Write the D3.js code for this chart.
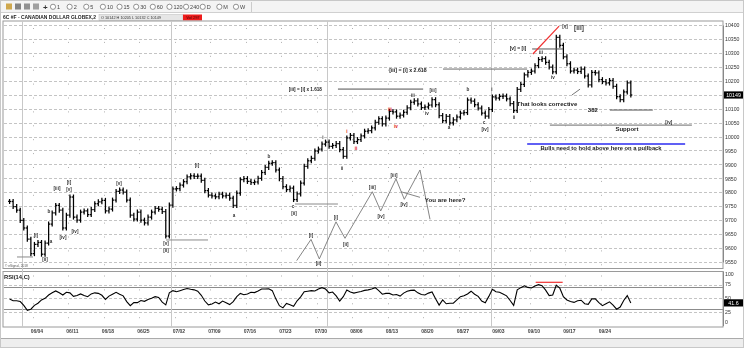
<!DOCTYPE html>
<html><head><meta charset="utf-8">
<script src="https://cdn.jsdelivr.net/npm/d3@7"></script>
<style>
body{margin:0;background:#fff;}
svg{display:block;font-family:"Liberation Sans",Arial,sans-serif;}
.gray{filter:grayscale(1);}
</style>
</head><body>
<svg id="c" width="744" height="357"></svg>
<script>
// ---------- DATA ----------
const symbolTitle = "6C #F - CANADIAN DOLLAR GLOBEX,2";
const quoteText = "O 10142   H 10205   L 10132   C 10149";
const volText = "Vol 297";
const firstDay = "2018-05-30", lastDay = "2018-09-28";
const barsPerDay = 2;
// closes, two bars per trading day
const closes = [
9767,9749,9736,9699,9672,9632,9580,9613,9620,9578,9618,9686,9726,9753,9736,9672,9718,9783,9711,9700,
9729,9733,9720,9738,9759,9766,9771,9733,9740,9772,9803,9808,9801,9772,9718,9704,9729,9700,9690,9711,
9729,9742,9739,9731,9643,9754,9812,9813,9826,9838,9855,9859,9857,9858,9843,9806,9790,9787,9784,9793,
9787,9789,9779,9753,9797,9845,9849,9839,9835,9837,9850,9871,9889,9904,9906,9880,9849,9820,9810,9815,
9774,9794,9833,9893,9913,9922,9948,9955,9973,9980,9965,9968,9975,9953,9929,9995,10004,9982,9989,10002,
10019,10021,10031,10051,10064,10045,10066,10090,10088,10073,10077,10087,10103,10123,10128,10117,10104,10106,10113,10132,
10114,10075,10057,10072,10049,10060,10070,10084,10086,10131,10127,10114,10102,10084,10073,10097,10142,10138,10144,10145,
10135,10118,10093,10169,10187,10221,10230,10235,10254,10276,10279,10266,10249,10232,10356,10327,10286,10261,10235,10238,
10233,10242,10217,10185,10230,10228,10204,10197,10192,10201,10180,10143,10132,10160,10192,10149];
const rsiValues = [
48.5,45.5,45.5,44,37,28,30,37,41,47,50,56,60,63.5,60,56,61,60,53.5,55,
58,55,53,58,60,59,55.5,48,54,57.5,61,57.5,54.5,44,36.5,42,42,46,44.5,48,
50,53,51.5,43,38,60,64,62,64,66,68,66.5,65.5,63,55.5,45,38,39.5,43,40,
45,42,38.5,44,53,59,56.5,58,61,60.5,63.5,67,67,67.5,64,49,36.5,32.5,40.5,38,
35.5,45.5,52.5,62,63,64,63.5,67,69.5,67,60,61.5,54.5,45,53,65,61.5,59.5,61,62.5,
64.5,65.5,67,69.5,64,57.5,59,59,56,57,54,59.5,63,64.5,65,60,57,56,59.5,61.5,
49,37.5,47,40,41,41,47,53,54.5,58,63,57.5,53.5,45,42,53.5,66.5,62,61,58,
54.5,46,37,65.5,69.5,73,70,69,72.5,75,73,65,55,56,74,68.5,53,47,44,42.5,
45.5,46.5,40,39,49,49,42,36.5,40,43.5,37.5,30,34,46,55,41.6];
const priceTicks = [9550,9600,9650,9700,9750,9800,9850,9900,9950,10000,10050,10100,10150,10200,10250,10300,10350,10400];
const rsiTicks = [0,25,50,75,100];
const rsiBands = [30,70];
const weekLabels = ["06/04","06/11","06/18","06/25","07/02","07/09","07/16","07/23","07/30","08/06","08/13","08/20","08/27","09/03","09/10","09/17","09/24"];
const monthStarts = ["2018-06-01","2018-07-02","2018-08-01","2018-09-03"];
const toolbarIntervals = ["1","2","5","10","15","30","60","120","240","D","M","W"];

// annotations in data space: s = bar slot, p = price
const waveLabels = [
 {t:"[i]",s:7.94,p:9647},{t:"[ii]",s:10.48,p:9561},{t:"a",s:12.17,p:9625},{t:"b",s:11.6,p:9733},
 {t:"[iii]",s:13.86,p:9815},{t:"[iv]",s:15.55,p:9640},{t:"[i]",s:17.24,p:9837},{t:"[v]",s:17.24,p:9812},
 {t:"[iv]",s:18.93,p:9661},{t:"[v]",s:31.32,p:9833},{t:"[v]",s:44.56,p:9618},{t:"[ii]",s:44.56,p:9593},
 {t:"[i]",s:53.3,p:9898},{t:"a",s:63.72,p:9718},{t:"b",s:73.58,p:9927},{t:"c",s:80.34,p:9751},
 {t:"[ii]",s:80.62,p:9726},{t:"i",s:88.79,p:9998},{t:"ii",s:94.14,p:9887},
 {t:"i",s:95.55,p:10020,red:1},{t:"ii",s:98.08,p:9959,red:1},{t:"iii",s:107.66,p:10099,red:1},{t:"iv",s:109.35,p:10038,red:1},
 {t:"iii",s:114.14,p:10149},{t:"iv",s:118.08,p:10084},{t:"[iii]",s:119.77,p:10167},{t:"a",s:124.28,p:10031},
 {t:"b",s:129.63,p:10170},{t:"c",s:134.14,p:10052},{t:"[iv]",s:134.42,p:10027},{t:"i",s:136.39,p:10170},
 {t:"ii",s:142.59,p:10070},{t:"iii",s:150.2,p:10303},{t:"iv",s:153.58,p:10213},{t:"[v]",s:156.96,p:10396},
 {t:"[iii]",s:160.9,p:10389,big:1},
 // projection sketch labels
 {t:"[i]",s:85.41,p:9647},{t:"[ii]",s:87.52,p:9545},{t:"[i]",s:92.45,p:9710},{t:"[ii]",s:95.18,p:9614},
 {t:"[iii]",s:102.68,p:9818},{t:"[iv]",s:105.13,p:9712},{t:"[iii]",s:108.79,p:9862},{t:"[iv]",s:111.6,p:9758},
 {t:"[iv]",s:186.2,p:10052}
];
const levelLines = [
 {s0:2.59,s1:7.1,p:9568,c:"#8a8a8a",w:1},
 {s0:44.56,s1:56.4,p:9629,c:"#8a8a8a",w:1},
 {s0:80.9,s1:93.0,p:9758,c:"#8a8a8a",w:1},
 {s0:93.0,s1:117.0,p:10170,c:"#9a9a9a",w:1.6},
 {s0:122.6,s1:146.3,p:10242,c:"#6a6a6a",w:1},
 {s0:147.7,s1:156.4,p:10314,c:"#555",w:1},
 {s0:169.6,s1:181.7,p:10095,c:"#555",w:1},
 {s0:152.7,s1:192.7,p:10041,c:"#8a8a8a",w:1.2},
 {s0:146.3,s1:190.8,p:9973,c:"#2b2bf0",w:1.6}
];
const segLines = [
 {pts:[[147.9,10296],[155.3,10396]],c:"#f03030",w:1.2},
 {pts:[[158.9,10149],[161.2,10170]],c:"#555",w:0.8},
 {pts:[[81.38,9555],[85.41,9631],[87.75,9561],[92.45,9694],[94.99,9635],[102.68,9802],[105.04,9733],[109.35,9848],[111.69,9775],[116.11,9880],[118.93,9703]],c:"#777",w:0.9},
 {pts:[[110.76,9802],[116.11,9782]],c:"#777",w:0.9}
];
const notes = [
 {t:"[iii] = [i] x 1.618",s:83.8,p:10170,fs:4.6},
 {t:"[iii] = [i] x 2.618",s:112.7,p:10239,fs:5.2},
 {t:"[v] = [i]",s:143.7,p:10317,fs:5},
 {t:"That looks corrective",s:151.9,p:10117,fs:6},
 {t:"382",s:164.8,p:10095,fs:6},
 {t:"Support",s:174.4,p:10027,fs:6},
 {t:"Bulls need to hold above here on a pullback",s:167.1,p:9959,fs:5.8},
 {t:"You are here?",s:123.2,p:9772,fs:6.2}
];
const rsiMarks = [{s0:148.7,s1:156.3,v:79.3}];

// ---------- LAYOUT ----------
const svg = d3.select("#c");
const L = 3, R = 723, mT = 21, mB = 268.5, rT = 271.5, rB = 327;
const parse = d3.timeParse("%Y-%m-%d"), fmt = d3.timeFormat("%Y-%m-%d");
const days = d3.timeDay.range(parse(firstDay), d3.timeDay.offset(parse(lastDay),1))
  .filter(d => d.getDay() !== 0 && d.getDay() !== 6);
const dayIdx = new Map(days.map((d,i)=>[fmt(d), i]));
const nSlots = days.length * barsPerDay;
const xs = d3.scaleLinear().domain([0, nSlots]).range([7.8, 632.6]);
const ys = d3.scaleLinear().domain([9550, 10400]).range([262, 25]);
const rs = d3.scaleLinear().domain([0, 100]).range([325.6, 271]);
const dayX = iso => xs(dayIdx.get(iso) * barsPerDay);

// outer frame and header
svg.append("rect").attr("x",0.5).attr("y",0.5).attr("width",743).attr("height",347).attr("fill","#fff").attr("stroke","#c8c8c8");
svg.append("rect").attr("x",1).attr("y",1).attr("width",742).attr("height",11).attr("fill","#f4f4f4");
svg.append("line").attr("x1",1).attr("x2",743).attr("y1",12.5).attr("y2",12.5).attr("stroke","#d0d0d0");
// toolbar icons
const iconCols = ["#c89a30","#707070","#808080","#909090"];
iconCols.forEach((c,i)=>svg.append("rect").attr("x",6+i*9).attr("y",3.5).attr("width",6).attr("height",6).attr("fill",c).attr("opacity",0.85));
const gHead = svg.append("g").attr("class","gray");
gHead.append("text").attr("x",43).attr("y",10).attr("font-size",8).attr("font-weight","bold").attr("fill","#333").text("+");
const radioX = d3.scalePoint().domain(toolbarIntervals).range([53,236]);
toolbarIntervals.forEach(t=>{
  gHead.append("circle").attr("cx",radioX(t)).attr("cy",6.8).attr("r",2.6).attr("fill","#fff").attr("stroke","#666").attr("stroke-width",0.7);
  gHead.append("text").attr("x",radioX(t)+4).attr("y",8.8).attr("font-size",5.5).attr("fill","#444").text(t);
});
svg.append("line").attr("x1",251.5).attr("x2",251.5).attr("y1",2).attr("y2",12).attr("stroke","#ccc");
// title row
gHead.append("text").attr("x",3).attr("y",19.2).attr("font-size",4.9).attr("font-weight","bold").attr("fill","#222")
  .attr("textLength",93).attr("lengthAdjust","spacingAndGlyphs").text(symbolTitle);
gHead.append("rect").attr("x",99).attr("y",14.5).attr("width",84).attr("height",6).attr("fill","#e6e6e6").attr("stroke","#bbb").attr("stroke-width",0.5);
gHead.append("text").attr("x",101).attr("y",19).attr("font-size",3.8).attr("fill","#333").text(quoteText);
svg.append("rect").attr("x",183).attr("y",14.5).attr("width",19).attr("height",6).attr("fill","#ee1c1c");
svg.append("text").attr("x",186).attr("y",19).attr("font-size",4).attr("fill","#400").text(volText);

// panels
function panel(y0,y1){
  svg.append("rect").attr("x",L).attr("y",y0).attr("width",R-L).attr("height",y1-y0).attr("fill","#fff").attr("stroke","#9a9a9a").attr("stroke-width",1);
}
panel(mT, mB); panel(rT, rB);

// horizontal grid (main)
const gGrid = svg.append("g");
gGrid.selectAll("line.h").data(priceTicks).join("line")
  .attr("x1",L+1).attr("x2",R).attr("y1",d=>Math.round(ys(d))+0.5).attr("y2",d=>Math.round(ys(d))+0.5)
  .attr("stroke","#c4c4c4").attr("stroke-dasharray","3,2");
// RSI grid
gGrid.selectAll("line.r").data(rsiTicks.filter(v=>v>0&&v<100)).join("line")
  .attr("x1",L+1).attr("x2",R).attr("y1",d=>Math.round(rs(d))+0.5).attr("y2",d=>Math.round(rs(d))+0.5)
  .attr("stroke","#c4c4c4").attr("stroke-dasharray","3,2");
gGrid.selectAll("line.b").data(rsiBands).join("line")
  .attr("x1",L+1).attr("x2",R).attr("y1",d=>Math.round(rs(d))+0.5).attr("y2",d=>Math.round(rs(d))+0.5)
  .attr("stroke","#8c8c8c").attr("stroke-width",1);

// weekly dotted verticals
const weekDates = weekLabels.map(w=>"2018-"+w.replace("/","-"));
weekDates.forEach(iso=>{
  const x = Math.round(dayX(iso)+3.6)+0.5;
  [[mT+7,mB],[rT+4,rB]].forEach(([a,b])=>svg.append("line").attr("x1",x).attr("x2",x).attr("y1",a).attr("y2",b)
    .attr("stroke","#b0b0b0").attr("stroke-dasharray","1,12.9"));
});
// month separators
monthStarts.forEach(iso=>{
  const x = Math.round(dayX(iso))+0.5;
  svg.append("line").attr("x1",x).attr("x2",x).attr("y1",mT).attr("y2",rB).attr("stroke","#c8c8c8");
});

// ---------- PRICE BARS ----------
const wick = 9;
const bars = closes.map((c,i)=>{const o = i ? closes[i-1] : c; return {i,o,c,h:Math.max(o,c)+wick,l:Math.min(o,c)-wick};});
const gB = svg.append("g").attr("stroke","#000").attr("stroke-width",1.25);
gB.selectAll("line.v").data(bars).join("line")
  .attr("x1",d=>xs(d.i+0.5)).attr("x2",d=>xs(d.i+0.5)).attr("y1",d=>ys(d.h)).attr("y2",d=>ys(d.l));
gB.selectAll("line.o").data(bars).join("line")
  .attr("x1",d=>xs(d.i+0.5)-1.5).attr("x2",d=>xs(d.i+0.5)).attr("y1",d=>ys(d.o)).attr("y2",d=>ys(d.o));
gB.selectAll("line.c").data(bars).join("line")
  .attr("x1",d=>xs(d.i+0.5)).attr("x2",d=>xs(d.i+0.5)+1.5).attr("y1",d=>ys(d.c)).attr("y2",d=>ys(d.c));

// ---------- ANNOTATIONS ----------
const gA = svg.append("g");
levelLines.forEach(l=>gA.append("line").attr("x1",xs(l.s0)).attr("x2",xs(l.s1)).attr("y1",ys(l.p)).attr("y2",ys(l.p))
  .attr("stroke",l.c).attr("stroke-width",l.w));
const lineGen = d3.line().x(d=>xs(d[0])).y(d=>ys(d[1]));
segLines.forEach(s=>gA.append("path").attr("d",lineGen(s.pts)).attr("fill","none").attr("stroke",s.c).attr("stroke-width",s.w));
const gTxtGray = svg.append("g").attr("class","gray");
const gTxtRed = svg.append("g");
function labelText(sel){
  sel.attr("x",d=>xs(d.s)).attr("y",d=>ys(d.p)).attr("dy","0.35em").attr("text-anchor","middle")
    .attr("font-size",d=>d.big?6.5:4.6).attr("font-weight","bold").text(d=>d.t);
}
gTxtGray.selectAll("text.w").data(waveLabels.filter(d=>!d.red)).join("text").call(labelText).attr("fill","#333");
gTxtRed.selectAll("text.w").data(waveLabels.filter(d=>d.red)).join("text").call(labelText).attr("fill","#e01010");
gTxtGray.selectAll("text.n").data(notes).join("text")
  .attr("x",d=>xs(d.s)).attr("y",d=>ys(d.p)).attr("dy","0.35em").attr("text-anchor","middle")
  .attr("font-size",d=>d.fs).attr("font-weight","bold").attr("fill","#222").text(d=>d.t);
gTxtGray.append("text").attr("x",5).attr("y",266.5).attr("font-size",3.2).attr("fill","#555").text("© eSignal, 2018");

// ---------- RSI ----------
const rsiLine = d3.line().x((d,i)=>xs(i+0.5)).y(d=>rs(d));
svg.append("path").attr("d",rsiLine(rsiValues)).attr("fill","none").attr("stroke","#000").attr("stroke-width",1.1);
rsiMarks.forEach(m=>svg.append("line").attr("x1",xs(m.s0)).attr("x2",xs(m.s1)).attr("y1",rs(m.v)).attr("y2",rs(m.v))
  .attr("stroke","#f03030").attr("stroke-width",1.2));
gTxtGray.append("text").attr("x",4).attr("y",278.5).attr("font-size",5.8).attr("font-weight","bold").attr("fill","#222").text("RSI(14,C)");

// ---------- AXES ----------
const lastClose = closes[closes.length-1];
const lastRsi = rsiValues[rsiValues.length-1];
const gAx = svg.append("g").attr("class","gray");
const yAxis = d3.axisRight(ys).tickValues(priceTicks.filter(t=>Math.abs(t-lastClose)>25)).tickSize(0).tickPadding(2).tickFormat(d3.format("d"));
gAx.append("g").attr("transform",`translate(${R},0)`).call(yAxis)
  .call(g=>g.select(".domain").attr("stroke","#888"))
  .selectAll("text").attr("font-size",5.2).attr("fill","#333").attr("font-family","Liberation Sans, Arial");
const rAxis = d3.axisRight(rs).tickValues(rsiTicks).tickSize(0).tickPadding(2).tickFormat(d=>d);
const rg = gAx.append("g").attr("transform",`translate(${R},0)`).call(rAxis);
rg.select(".domain").attr("stroke","#888");
rg.selectAll(".tick").attr("transform",d=>`translate(0,${Math.min(Math.max(rs(d),274.5),322.5)})`);
rg.selectAll("text").attr("font-size",5.2).attr("fill","#333").attr("font-family","Liberation Sans, Arial");
// last value boxes
function valBox(y,txt){
  gAx.append("rect").attr("x",R+1).attr("y",y-3.6).attr("width",19).attr("height",7.2).attr("fill","#000");
  gAx.append("text").attr("x",R+10.5).attr("y",y).attr("dy","0.35em").attr("text-anchor","middle")
    .attr("font-size",5.3).attr("fill","#fff").text(txt);
}
valBox(ys(lastClose), d3.format("d")(lastClose));
valBox(rs(lastRsi), d3.format(".1f")(lastRsi));

// date axis
gAx.append("g").selectAll("text").data(weekDates).join("text")
  .attr("x",d=>dayX(d)+7.8).attr("y",333).attr("text-anchor","middle")
  .attr("font-size",5).attr("font-weight","bold").attr("fill","#444")
  .text((d,i)=>weekLabels[i]);
svg.append("line").attr("x1",1).attr("x2",743).attr("y1",338.5).attr("y2",338.5).attr("stroke","#aaa");
svg.append("rect").attr("x",1).attr("y",339).attr("width",742).attr("height",8).attr("fill","#eeeeee");
gAx.append("text").attr("x",739).attr("y",345).attr("text-anchor","end").attr("font-size",4.6).attr("fill","#333")
  .text("Published by eSignal (www.esignal.com)");
</script>
</body></html>
